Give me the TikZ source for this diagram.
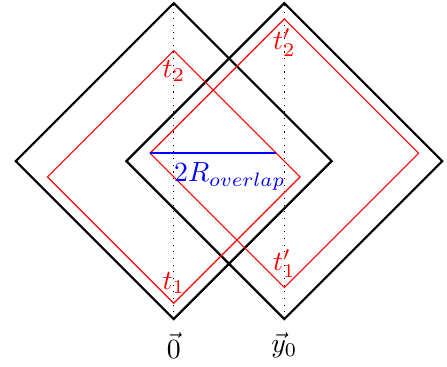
\documentclass[tikz,border=0pt]{standalone}
\usepackage{xcolor}
\usepackage{tikz}
\usetikzlibrary{positioning}

\begin{document}
\begin{tikzpicture}[
  cone/.style={draw=black, thick},
  shell/.style={draw=red},
  axis/.style={dotted},
  tlabel/.style={text=red}
]
\useasboundingbox (-2.2,-0.6) rectangle (3.46,4.04);
% light cones at 0 and y0
\foreach \x in {0,1.4} \draw[cone] (\x,0) -- ++(2,2) -- ++(-2,2) -- ++(-2,-2) -- cycle;
\foreach \x in {0,1.4} \draw[axis] (\x,0) -- (\x,4);
% causal diamonds
\draw[shell] (0,0.2) -- ++(1.6,1.6) -- ++(-1.6,1.6) -- ++(-1.6,-1.6) -- cycle;
\draw[shell] (1.4,0.4) -- ++(1.7,1.7) -- ++(-1.7,1.7) -- ++(-1.7,-1.7) -- cycle;
\node[tlabel, above] (t1) at (0,0.2) {$t_1$};
\node[tlabel, below] (t2) at (0,3.4) {$t_2$};
\node[tlabel, above] (t1p) at (1.4,0.4) {$t'_1$};
\node[tlabel, below] (t2p) at (1.4,3.8) {$t'_2$};
% overlap width
\coordinate (ovl) at (-0.3,2.1);
\coordinate (ovr) at (1.3,2.1);
\draw[draw=blue, semithick] (ovl) -- (ovr);
\node[text=blue, below] (rov) at (0.71,2.1) {$2R_{overlap}$};
\node (zero) at (0,-0.33) {$\vec{0}$};
\node (yzero) at (1.4,-0.33) {$\vec{y}_0$};
\end{tikzpicture}
\end{document}
